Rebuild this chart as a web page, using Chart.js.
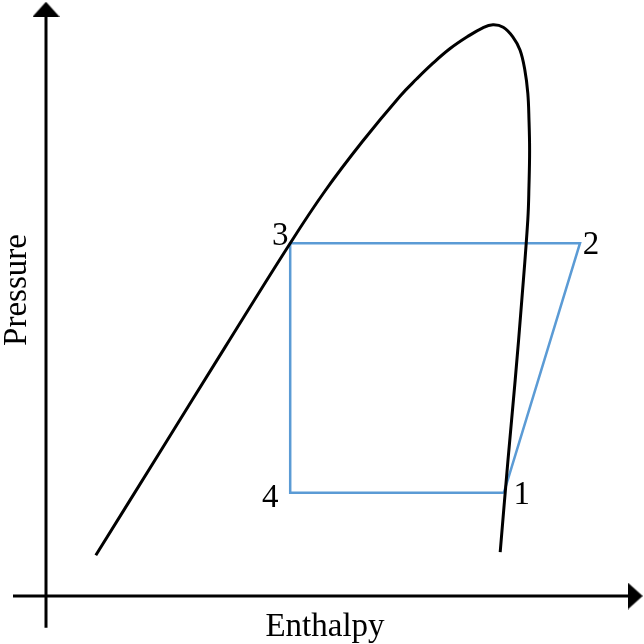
<!DOCTYPE html>
<html>
<head>
<meta charset="utf-8">
<script src="https://cdn.jsdelivr.net/npm/chart.js@4"></script>
<style>
  html, body { margin: 0; padding: 0; background: #fff; }
  canvas { display: block; }
</style>
</head>
<body>
<canvas id="phChart" width="644" height="644"></canvas>
<script>
// saturation dome (arbitrary enthalpy / pressure units)
const domeH = [8.3, 19, 29.8, 40.7, 46.5, 52.7, 59, 61.8, 64.5, 67.3, 70.2, 72.8, 74.5, 76.2, 77.8, 79, 79.8, 80.3, 80.5, 80.6, 80.5, 80.3, 79.3, 78.2, 77, 75.7];
const domeP = [6.8, 24, 41.4, 58.8, 67.5, 75.7, 83.3, 86.2, 88.8, 91.2, 93.2, 94.7, 95.2, 94.8, 93.2, 91, 87.7, 83.8, 79.3, 74.3, 68.5, 62.7, 49.3, 36, 22.7, 7.3];

// refrigeration cycle 1 -> 2 -> 3 -> 4 -> 1
const cycleLabels = ["1", "2", "3", "4"];
const cycleH = [76.3, 89, 40.7, 40.7];
const cycleP = [17.2, 58.8, 58.8, 17.2];

// axes (start, end)
const axisH = [-5.5, 98.2];
const axisP = [-5.3, 97.8];

const xTitle = "Enthalpy";
const yTitle = "Pressure";

// arrow head image
function makeArrow(w, h) {
  const c = document.createElement("canvas");
  c.width = w;
  c.height = h;
  const g = c.getContext("2d");
  g.fillStyle = "#000";
  g.beginPath();
  g.moveTo(w / 2, 0);
  g.lineTo(w, h);
  g.lineTo(0, h);
  g.closePath();
  g.fill();
  return c;
}
const arrow = makeArrow(27, 15);

const toPoints = (xs, ys) => xs.map((x, i) => ({ x: x, y: ys[i] }));

const cyclePts = toPoints(cycleH, cycleP);
cyclePts.push(cyclePts[0]);

// labels drawn from the scales
const textPlugin = {
  id: "textPlugin",
  afterDatasetsDraw(chart) {
    const { ctx, scales } = chart;
    const sx = scales.x, sy = scales.y;
    ctx.save();
    ctx.fillStyle = "#000";
    ctx.font = "33px 'Liberation Serif', serif";
    ctx.textAlign = "center";
    ctx.textBaseline = "alphabetic";
    const offs = [[18, 11], [11, 11], [-10, 2], [-20, 14]];
    cycleLabels.forEach((lab, i) => {
      ctx.fillText(lab, sx.getPixelForValue(cycleH[i]) + offs[i][0], sy.getPixelForValue(cycleP[i]) + offs[i][1]);
    });
    ctx.textBaseline = "middle";
    ctx.fillText(xTitle, sx.getPixelForValue(46.5), sy.getPixelForValue(-5.3));
    ctx.translate(sx.getPixelForValue(-4.7), sy.getPixelForValue(51));
    ctx.rotate(-Math.PI / 2);
    ctx.fillText(yTitle, 0, 0);
    ctx.restore();
  },
};

new Chart(document.getElementById("phChart"), {
  type: "scatter",
  data: {
    datasets: [
      {
        label: "dome",
        data: toPoints(domeH, domeP),
        showLine: true,
        borderColor: "#000",
        borderWidth: 3,
        tension: 0.4,
        pointRadius: 0,
      },
      {
        label: "cycle",
        data: cyclePts,
        showLine: true,
        borderColor: "#5B9BD5",
        borderWidth: 2.5,
        tension: 0,
        pointRadius: 0,
      },
      {
        label: "x axis",
        data: toPoints(axisH, [0, 0]),
        showLine: true,
        borderColor: "#000",
        borderWidth: 3,
        pointStyle: arrow,
        pointRadius: [0, 5],
        rotation: 90,
      },
      {
        label: "y axis",
        data: toPoints([0, 0], axisP),
        showLine: true,
        borderColor: "#000",
        borderWidth: 3,
        pointStyle: arrow,
        pointRadius: [0, 5],
        rotation: 0,
      },
    ],
  },
  options: {
    responsive: false,
    animation: false,
    layout: { padding: 0, autoPadding: false },
    plugins: {
      legend: { display: false },
      tooltip: { enabled: false },
    },
    scales: {
      x: { type: "linear", display: false, min: -46 / 6, max: 598 / 6 },
      y: { type: "linear", display: false, min: -8, max: 596 / 6 },
    },
  },
  plugins: [textPlugin],
});
</script>
</body>
</html>
